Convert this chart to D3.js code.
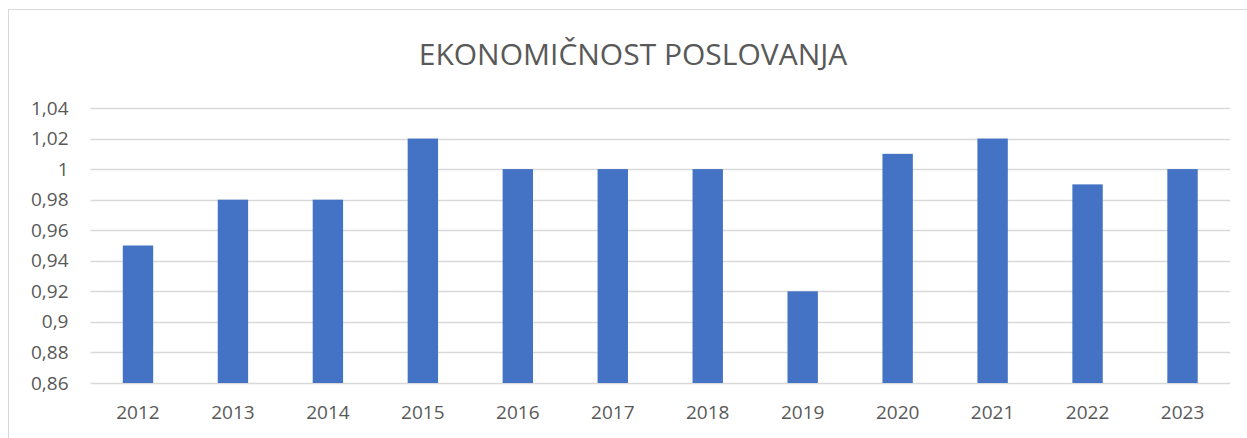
<!DOCTYPE html>
<html>
<head>
<meta charset="utf-8">
<script src="https://cdn.jsdelivr.net/npm/d3@7"></script>
<style>
  body { margin: 0; background: #fff; }
  svg text { font-family: "Open Sans", "Liberation Sans", sans-serif; fill: #595959; }
</style>
</head>
<body>
<div id="chart"></div>
<script>
// chart data
const years = ['2012', '2013', '2014', '2015', '2016', '2017', '2018', '2019', '2020', '2021', '2022', '2023'];
const values = [0.95, 0.98, 0.98, 1.02, 1.00, 1.00, 1.00, 0.92, 1.01, 1.02, 0.99, 1.00];
const yTicks = [0.86, 0.88, 0.90, 0.92, 0.94, 0.96, 0.98, 1.00, 1.02, 1.04];
const title = 'EKONOMIČNOST POSLOVANJA';

const W = 1247, H = 438;
const margin = { top: 108, right: 17, bottom: 55, left: 90.5 };
const width = W - margin.left - margin.right;
const height = H - margin.top - margin.bottom;

let svg = d3.select('#chart').append('svg')
    .attr('width', W)
    .attr('height', H);

// outer frame (only top and left visible in the crop)
svg.append('rect')
    .attr('x', 8.5).attr('y', 9.5)
    .attr('width', W + 10).attr('height', H + 10)
    .attr('fill', 'none')
    .attr('stroke', '#d9d9d9');

svg.append('text')
    .attr('x', 633).attr('y', 65)
    .attr('text-anchor', 'middle')
    .style('font-size', '30px')
    .text(title);

let plot = svg.append('g').attr('transform', `translate(${margin.left},${margin.top})`);

let xScale = d3.scaleBand().domain(years).range([0, width]).paddingInner(0.68).paddingOuter(0.34);
let yScale = d3.scaleLinear().domain([0.86, 1.04]).range([height, 0]);

// gridlines
plot.append('g').selectAll('line').data(yTicks).join('line')
    .attr('x1', 0).attr('x2', width)
    .attr('y1', d => Math.round(yScale(d)) + 0.5)
    .attr('y2', d => Math.round(yScale(d)) + 0.5)
    .attr('stroke', '#d9d9d9')
    .attr('stroke-width', 1.5);

let yAxis = plot.append('g')
    .call(d3.axisLeft(yScale).tickValues(yTicks).tickSize(0).tickPadding(22)
        .tickFormat(d => String(+d.toFixed(2)).replace('.', ',')));
yAxis.select('.domain').remove();
yAxis.selectAll('text').style('font-size', '19px').attr('fill', '#595959');

plot.append('g').selectAll('rect').data(values).join('rect')
    .attr('x', (d, i) => xScale(years[i]))
    .attr('y', d => yScale(d))
    .attr('width', xScale.bandwidth())
    .attr('height', d => height - yScale(d))
    .attr('fill', '#4472c4');

let xAxis = plot.append('g')
    .attr('transform', `translate(0,${height})`)
    .call(d3.axisBottom(xScale).tickSize(0).tickPadding(23));
xAxis.select('.domain').remove();
xAxis.selectAll('text').style('font-size', '19px').attr('fill', '#595959');
</script>
</body>
</html>
